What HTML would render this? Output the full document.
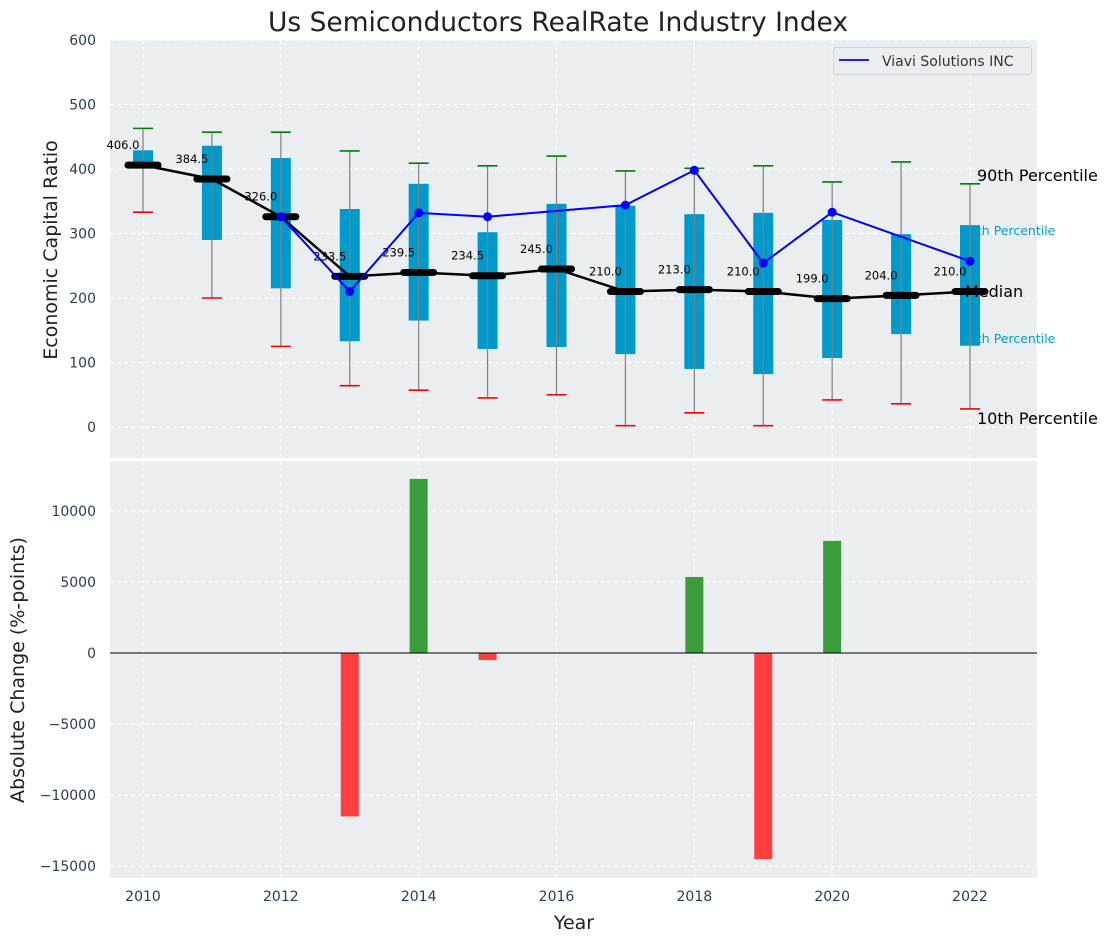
<!DOCTYPE html>
<html><head><meta charset="utf-8"><style>
body{margin:0;background:#fff;}
svg{font-family:"DejaVu Sans","Liberation Sans",sans-serif;}
</style></head><body>
<svg id="c" width="1112" height="942" xmlns="http://www.w3.org/2000/svg"></svg>
<script>
const years=[2010,2011,2012,2013,2014,2015,2016,2017,2018,2019,2020,2021,2022];
const p90=[463,457,457,428,409,405,420,397,401,405,380,411,377];
const p10=[333,200,125,64,57,45,50,2,22,2,42,36,28];
const p75=[429,436,417,338,377,302,346,343,330,332,321,299,313];
const p25=[406,290,215,133,165,121,124,113,90,82,107,144,126];
const medians=[406.0,384.5,326.0,233.5,239.5,234.5,245.0,210.0,213.0,210.0,199.0,204.0,210.0];
const company=[null,null,326,210,332,326,null,344,398,254,333,null,257];
const changeYears=[2013,2014,2015,2018,2019,2020];
const changes=[-11500,12250,-500,5350,-14500,7890];
const topTicks=[0,100,200,300,400,500,600];
const botTicks=[-15000,-10000,-5000,0,5000,10000];
const xTicks=[2010,2012,2014,2016,2018,2020,2022];

const NS="http://www.w3.org/2000/svg";
const svg=document.getElementById('c');
function el(tag,attrs,parent){const e=document.createElementNS(NS,tag);for(const k in attrs)e.setAttribute(k,attrs[k]);(parent||svg).appendChild(e);return e;}
const L=110,R=1037;
const X=v=>143+(v-2010)*(970-143)/12;
const YT=v=>427-v*0.645;
const YB=v=>653-v*0.01421;

let b1=el('rect',{x:L,y:40,width:R-L,height:418,fill:'#eaeef0'});

let b2=el('rect',{x:L,y:461,width:R-L,height:417,fill:'#eaeef0'});


xTicks.forEach(t=>{
  el('line',{x1:X(t),x2:X(t),y1:40,y2:458,stroke:'#fff','stroke-dasharray':'4,3','stroke-width':1});
  el('line',{x1:X(t),x2:X(t),y1:461,y2:878,stroke:'#fff','stroke-dasharray':'4,3','stroke-width':1});
  let tx=el('text',{x:X(t),y:901,'text-anchor':'middle','font-size':14,fill:'#2c3e50'});tx.textContent=t;
  
});
topTicks.forEach(t=>{
  el('line',{x1:L,x2:R,y1:YT(t),y2:YT(t),stroke:'#fff','stroke-dasharray':'4,3','stroke-width':1});
  let tx=el('text',{x:96,y:YT(t)+5,'text-anchor':'end','font-size':14,fill:'#2c3e50'});tx.textContent=t;
  
});
botTicks.forEach(t=>{
  el('line',{x1:L,x2:R,y1:YB(t),y2:YB(t),stroke:'#fff','stroke-dasharray':'4,3','stroke-width':1});
  let tx=el('text',{x:96,y:YB(t)+5,'text-anchor':'end','font-size':14,fill:'#2c3e50'});tx.textContent=t===0?'0':(t<0?'\u2212'+(-t):t);
  
});

let l90=el('text',{x:977,y:181,'font-size':16,fill:'#000'});l90.textContent='90th Percentile';

let l75=el('text',{x:961,y:235,'font-size':12.5,fill:'#00a0d0'});l75.textContent='75th Percentile';

let l25=el('text',{x:961,y:343,'font-size':12.5,fill:'#00a0d0'});l25.textContent='25th Percentile';

let l10=el('text',{x:977,y:424,'font-size':16,fill:'#000'});l10.textContent='10th Percentile';


years.forEach((y,i)=>{
  const x=X(y);
  let bx=el('rect',{x:x-10,y:YT(p75[i]),width:20,height:YT(p25[i])-YT(p75[i]),fill:'#0099cc'});
  
  let w=el('line',{x1:x,x2:x,y1:YT(p90[i]),y2:YT(p10[i]),stroke:'#808080','stroke-width':1.2});
  
  let c1=el('line',{x1:x-10,x2:x+10,y1:YT(p90[i]),y2:YT(p90[i]),stroke:'green','stroke-width':1.6});
  
  let c2=el('line',{x1:x-10,x2:x+10,y1:YT(p10[i]),y2:YT(p10[i]),stroke:'red','stroke-width':1.6});
  
});
let lm=el('text',{x:965,y:297,'font-size':16,fill:'#000'});lm.textContent='Median';


let mp=years.map((y,i)=>X(y)+','+YT(medians[i])).join(' ');
let ml=el('polyline',{points:mp,fill:'none',stroke:'#000','stroke-width':2.5});

years.forEach((y,i)=>{
  let m=el('line',{x1:X(y)-15,x2:X(y)+15,y1:YT(medians[i]),y2:YT(medians[i]),stroke:'#000','stroke-width':7,'stroke-linecap':'round'});
  
  let t=el('text',{x:X(y)-20,y:YT(medians[i])-16,'text-anchor':'middle','font-size':11.5,fill:'#000'});t.textContent=medians[i].toFixed(1);
  
});
let cp=[];years.forEach((y,i)=>{if(company[i]!==null)cp.push(X(y)+','+YT(company[i]));});
let cl=el('polyline',{points:cp.join(' '),fill:'none',stroke:'#0000ff','stroke-width':2});

years.forEach((y,i)=>{if(company[i]===null)return;
  let d=el('circle',{cx:X(y),cy:YT(company[i]),r:4.5,fill:'#0000ff'});
  
});

changeYears.forEach((y,i)=>{
  const v=changes[i];
  let r=el('rect',{x:X(y)-9,y:Math.min(YB(v),YB(0)),width:18,height:Math.abs(YB(v)-YB(0)),fill:v>=0?'#3a9c3a':'#ff3e3e'});
  
});
let zl=el('line',{x1:L,x2:R,y1:YB(0),y2:YB(0),stroke:'#000','stroke-width':1});


let lg=el('g',{});
el('rect',{x:833.5,y:47.5,width:198,height:27,rx:3,fill:'#eaeef0',stroke:'#d0d4d8'},lg);
el('line',{x1:839,x2:869,y1:60,y2:60,stroke:'#0000ff','stroke-width':1.8},lg);
let lt=el('text',{x:882,y:66,'font-size':14,fill:'#333'},lg);lt.textContent='Viavi Solutions INC';


let ti=el('text',{x:558,y:31,'text-anchor':'middle','font-size':26.5,fill:'#222'});ti.textContent='Us Semiconductors RealRate Industry Index';

let xt=el('text',{x:574,y:929,'text-anchor':'middle','font-size':19,fill:'#222'});xt.textContent='Year';

let y1=el('text',{x:0,y:0,'text-anchor':'middle','font-size':19,fill:'#222',transform:'translate(57,250) rotate(-90)'});y1.textContent='Economic Capital Ratio';

let y2=el('text',{x:0,y:0,'text-anchor':'middle','font-size':19,fill:'#222',transform:'translate(24,670) rotate(-90)'});y2.textContent='Absolute Change (%-points)';

</script>
</body></html>
